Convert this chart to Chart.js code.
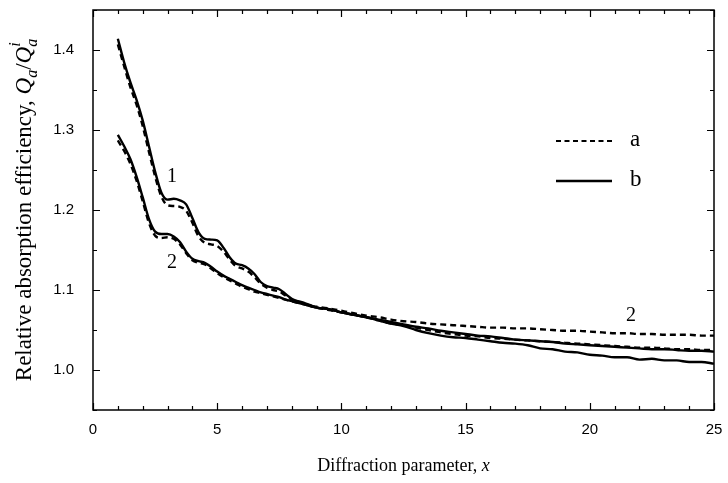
<!DOCTYPE html>
<html>
<head>
<meta charset="utf-8">
<script src="https://cdn.jsdelivr.net/npm/chart.js@4.4.0/dist/chart.umd.min.js"></script>
<style>
  html, body { margin: 0; padding: 0; background: #fff; }
</style>
</head>
<body>
<canvas id="grafica" width="728" height="483"></canvas>
<script>
// parametro de difraccion x (paso 0.25 hasta 9, luego 0.5)
const xValores = [
    1, 1.25, 1.5, 1.75, 2, 2.25, 2.5, 2.75, 3, 3.25, 3.5, 3.75, 4, 4.25, 4.5, 4.75,
    5, 5.25, 5.5, 5.75, 6, 6.25, 6.5, 6.75, 7, 7.25, 7.5, 7.75, 8, 8.25, 8.5, 8.75, 9,
    9.5, 10, 10.5, 11, 11.5, 12, 12.5, 13, 13.5, 14, 14.5, 15, 15.5, 16, 16.5, 17,
    17.5, 18, 18.5, 19, 19.5, 20, 20.5, 21, 21.5, 22, 22.5, 23, 23.5, 24, 24.5, 25
];

// curva 1, caso a (discontinua)
const curva1a = [
    1.407, 1.380, 1.354, 1.332, 1.305, 1.273, 1.242, 1.217, 1.206, 1.205, 1.204, 1.199, 1.184, 1.167, 1.159, 1.157,
    1.155, 1.148, 1.138, 1.130, 1.127, 1.123, 1.116, 1.108, 1.103, 1.100, 1.098, 1.093, 1.088, 1.085, 1.083, 1.080, 1.078,
    1.075, 1.072, 1.069, 1.066, 1.062, 1.058, 1.056, 1.053, 1.050, 1.047, 1.045, 1.043, 1.042, 1.040, 1.039, 1.038,
    1.037, 1.036, 1.035, 1.034, 1.033, 1.032, 1.031, 1.030, 1.029, 1.028, 1.028, 1.027, 1.026, 1.026, 1.025, 1.025
];

// curva 1, caso b (continua)
const curva1b = [
    1.414, 1.385, 1.360, 1.338, 1.312, 1.280, 1.248, 1.222, 1.213, 1.214, 1.212, 1.207, 1.190, 1.172, 1.164, 1.163,
    1.162, 1.153, 1.141, 1.133, 1.131, 1.127, 1.120, 1.110, 1.105, 1.103, 1.101, 1.095, 1.089, 1.086, 1.084, 1.081, 1.078,
    1.076, 1.072, 1.069, 1.066, 1.062, 1.058, 1.055, 1.050, 1.046, 1.043, 1.041, 1.040, 1.038, 1.036, 1.034, 1.033,
    1.031, 1.027, 1.026, 1.023, 1.022, 1.019, 1.018, 1.016, 1.016, 1.013, 1.014, 1.012, 1.012, 1.010, 1.010, 1.008
];

// curva 2, caso a (discontinua)
const curva2a = [
    1.287, 1.274, 1.258, 1.237, 1.211, 1.184, 1.168, 1.165, 1.166, 1.164, 1.157, 1.146, 1.137, 1.134, 1.132, 1.127,
    1.121, 1.116, 1.112, 1.108, 1.104, 1.101, 1.098, 1.096, 1.094, 1.092, 1.090, 1.088, 1.086, 1.084, 1.082, 1.080, 1.079,
    1.077, 1.074, 1.071, 1.068, 1.066, 1.063, 1.061, 1.060, 1.058, 1.057, 1.056, 1.055, 1.054, 1.053, 1.053, 1.052,
    1.052, 1.051, 1.050, 1.049, 1.049, 1.048, 1.047, 1.046, 1.046, 1.045, 1.045, 1.044, 1.044, 1.044, 1.043, 1.043
];

// curva 2, caso b (continua)
const curva2b = [
    1.294, 1.280, 1.264, 1.242, 1.216, 1.189, 1.173, 1.170, 1.170, 1.167, 1.160, 1.148, 1.139, 1.136, 1.134, 1.129,
    1.123, 1.118, 1.114, 1.110, 1.106, 1.103, 1.100, 1.097, 1.095, 1.093, 1.091, 1.088, 1.086, 1.084, 1.082, 1.080, 1.078,
    1.076, 1.072, 1.069, 1.066, 1.063, 1.060, 1.057, 1.054, 1.052, 1.049, 1.047, 1.045, 1.043, 1.042, 1.040, 1.038,
    1.037, 1.036, 1.035, 1.033, 1.032, 1.031, 1.030, 1.029, 1.028, 1.027, 1.026, 1.026, 1.025, 1.024, 1.024, 1.023
];

// numeros de curva sobre la grafica (en unidades de datos)
const etiquetasTexto = ['1', '2', '2'];
const etiquetasX = [3.18, 3.18, 21.66];
const etiquetasY = [1.242, 1.134, 1.068];

const leyendaTexto = ['a', 'b'];

const serif = '"Liberation Serif", "Times New Roman", serif';
const sans = '"Liberation Sans", Arial, sans-serif';

const puntos = (ys) => xValores.map((x, i) => ({ x: x, y: ys[i] }));

const serie = (ys, discontinua) => ({
    data: puntos(ys),
    borderColor: '#000',
    borderWidth: 2.4,
    borderDash: discontinua ? [6, 4] : [],
    pointRadius: 0,
    cubicInterpolationMode: 'monotone',
    fill: false
});

// dibuja texto con partes en cursiva, subindices y superindices
const anchoSegmentos = (ctx, segmentos) => {
    let ancho = 0;
    segmentos.forEach(s => {
        ctx.font = s.font;
        if (!s.sinAvance) ancho += ctx.measureText(s.t).width;
    });
    return ancho;
};

const dibujarSegmentos = (ctx, segmentos, xInicio, yBase) => {
    let cx = xInicio;
    segmentos.forEach(s => {
        ctx.font = s.font;
        ctx.fillText(s.t, cx, yBase + (s.dy || 0));
        if (!s.sinAvance) cx += ctx.measureText(s.t).width;
    });
};

const marco = {
    id: 'marco',
    afterDatasetsDraw(chart) {
        const ctx = chart.ctx;
        const a = chart.chartArea;
        const sx = chart.scales.x;
        const sy = chart.scales.y;
        ctx.save();
        ctx.strokeStyle = '#000';
        ctx.setLineDash([]);
        ctx.lineWidth = 1.5;
        ctx.strokeRect(a.left, a.top, a.right - a.left, a.bottom - a.top);

        // marcas hacia dentro en los cuatro lados
        ctx.lineWidth = 1.2;
        ctx.beginPath();
        for (let v = 0; v <= 25; v++) {
            const px = Math.round(sx.getPixelForValue(v)) + 0.5;
            const largo = v % 5 === 0 ? 7 : 4;
            ctx.moveTo(px, a.bottom); ctx.lineTo(px, a.bottom - largo);
            ctx.moveTo(px, a.top); ctx.lineTo(px, a.top + largo);
        }
        for (let i = 0; i <= 10; i++) {
            const py = Math.round(sy.getPixelForValue(0.95 + i * 0.05)) + 0.5;
            const largo = i % 2 === 1 ? 7 : 4;
            ctx.moveTo(a.left, py); ctx.lineTo(a.left + largo, py);
            ctx.moveTo(a.right, py); ctx.lineTo(a.right - largo, py);
        }
        ctx.stroke();

        ctx.fillStyle = '#000';
        ctx.textBaseline = 'middle';
        ctx.textAlign = 'center';
        ctx.font = '20px ' + serif;
        etiquetasTexto.forEach((t, i) => {
            ctx.fillText(t, sx.getPixelForValue(etiquetasX[i]), sy.getPixelForValue(etiquetasY[i]));
        });

        // leyenda
        const lx0 = a.left + 463;
        const lx1 = a.left + 519;
        const filas = [a.top + 131, a.top + 171];
        ctx.lineWidth = 2;
        ctx.setLineDash([5, 3.5]);
        ctx.beginPath(); ctx.moveTo(lx0, filas[0]); ctx.lineTo(lx1, filas[0]); ctx.stroke();
        ctx.lineWidth = 2.5;
        ctx.setLineDash([]);
        ctx.beginPath(); ctx.moveTo(lx0, filas[1]); ctx.lineTo(lx1, filas[1]); ctx.stroke();
        ctx.textAlign = 'left';
        ctx.font = '23px ' + serif;
        leyendaTexto.forEach((t, i) => ctx.fillText(t, lx1 + 18, filas[i] - 1));

        // titulos de los ejes
        ctx.textBaseline = 'alphabetic';
        const tituloX = [
            { t: 'Diffraction parameter, ', font: '18px ' + serif },
            { t: 'x', font: 'italic 18px ' + serif }
        ];
        const anchoX = anchoSegmentos(ctx, tituloX);
        dibujarSegmentos(ctx, tituloX, (a.left + a.right) / 2 - anchoX / 2, 471);

        const tituloY = [
            { t: 'Relative absorption efficiency, ', font: '23px ' + serif },
            { t: 'Q', font: 'italic 23px ' + serif },
            { t: 'a', font: 'italic 16px ' + serif, dy: 6 },
            { t: '/', font: '23px ' + serif },
            { t: 'Q', font: 'italic 23px ' + serif },
            { t: 'i', font: 'italic 16px ' + serif, dy: -11, sinAvance: true },
            { t: 'a', font: 'italic 16px ' + serif, dy: 6 }
        ];
        const anchoY = anchoSegmentos(ctx, tituloY);
        ctx.translate(31, (a.top + a.bottom) / 2);
        ctx.rotate(-Math.PI / 2);
        dibujarSegmentos(ctx, tituloY, -anchoY / 2, 0);
        ctx.restore();
    }
};

const ctx = document.getElementById('grafica').getContext('2d');
new Chart(ctx, {
    type: 'line',
    data: {
        datasets: [
            serie(curva1a, true),
            serie(curva1b, false),
            serie(curva2a, true),
            serie(curva2b, false)
        ]
    },
    options: {
        responsive: false,
        animation: false,
        layout: { padding: { top: 10, right: 14, left: 0, bottom: 0 } },
        plugins: { legend: { display: false }, tooltip: { enabled: false } },
        scales: {
            x: {
                type: 'linear',
                min: 0,
                max: 25,
                afterFit: (scale) => { scale.height = 73; },
                grid: { display: true, drawOnChartArea: false, drawTicks: true, tickLength: 11, tickColor: 'rgba(0,0,0,0)' },
                border: { display: false },
                ticks: {
                    stepSize: 1,
                    autoSkip: false,
                    maxRotation: 0,
                    padding: 0,
                    color: '#000',
                    font: { family: sans, size: 15 },
                    callback: (v) => (Math.round(v) % 5 === 0 ? String(Math.round(v)) : '')
                }
            },
            y: {
                type: 'linear',
                min: 0.95,
                max: 1.45,
                afterFit: (scale) => { scale.width = 93; },
                grid: { display: true, drawOnChartArea: false, drawTicks: true, tickLength: 19, tickColor: 'rgba(0,0,0,0)' },
                border: { display: false },
                ticks: {
                    stepSize: 0.05,
                    autoSkip: false,
                    padding: 0,
                    color: '#000',
                    font: { family: sans, size: 15 },
                    callback: (v) => {
                        const c = Math.round(v * 100);
                        return c % 10 === 0 ? (c / 100).toFixed(1) : '';
                    }
                }
            }
        }
    },
    plugins: [marco]
});
</script>
</body>
</html>
